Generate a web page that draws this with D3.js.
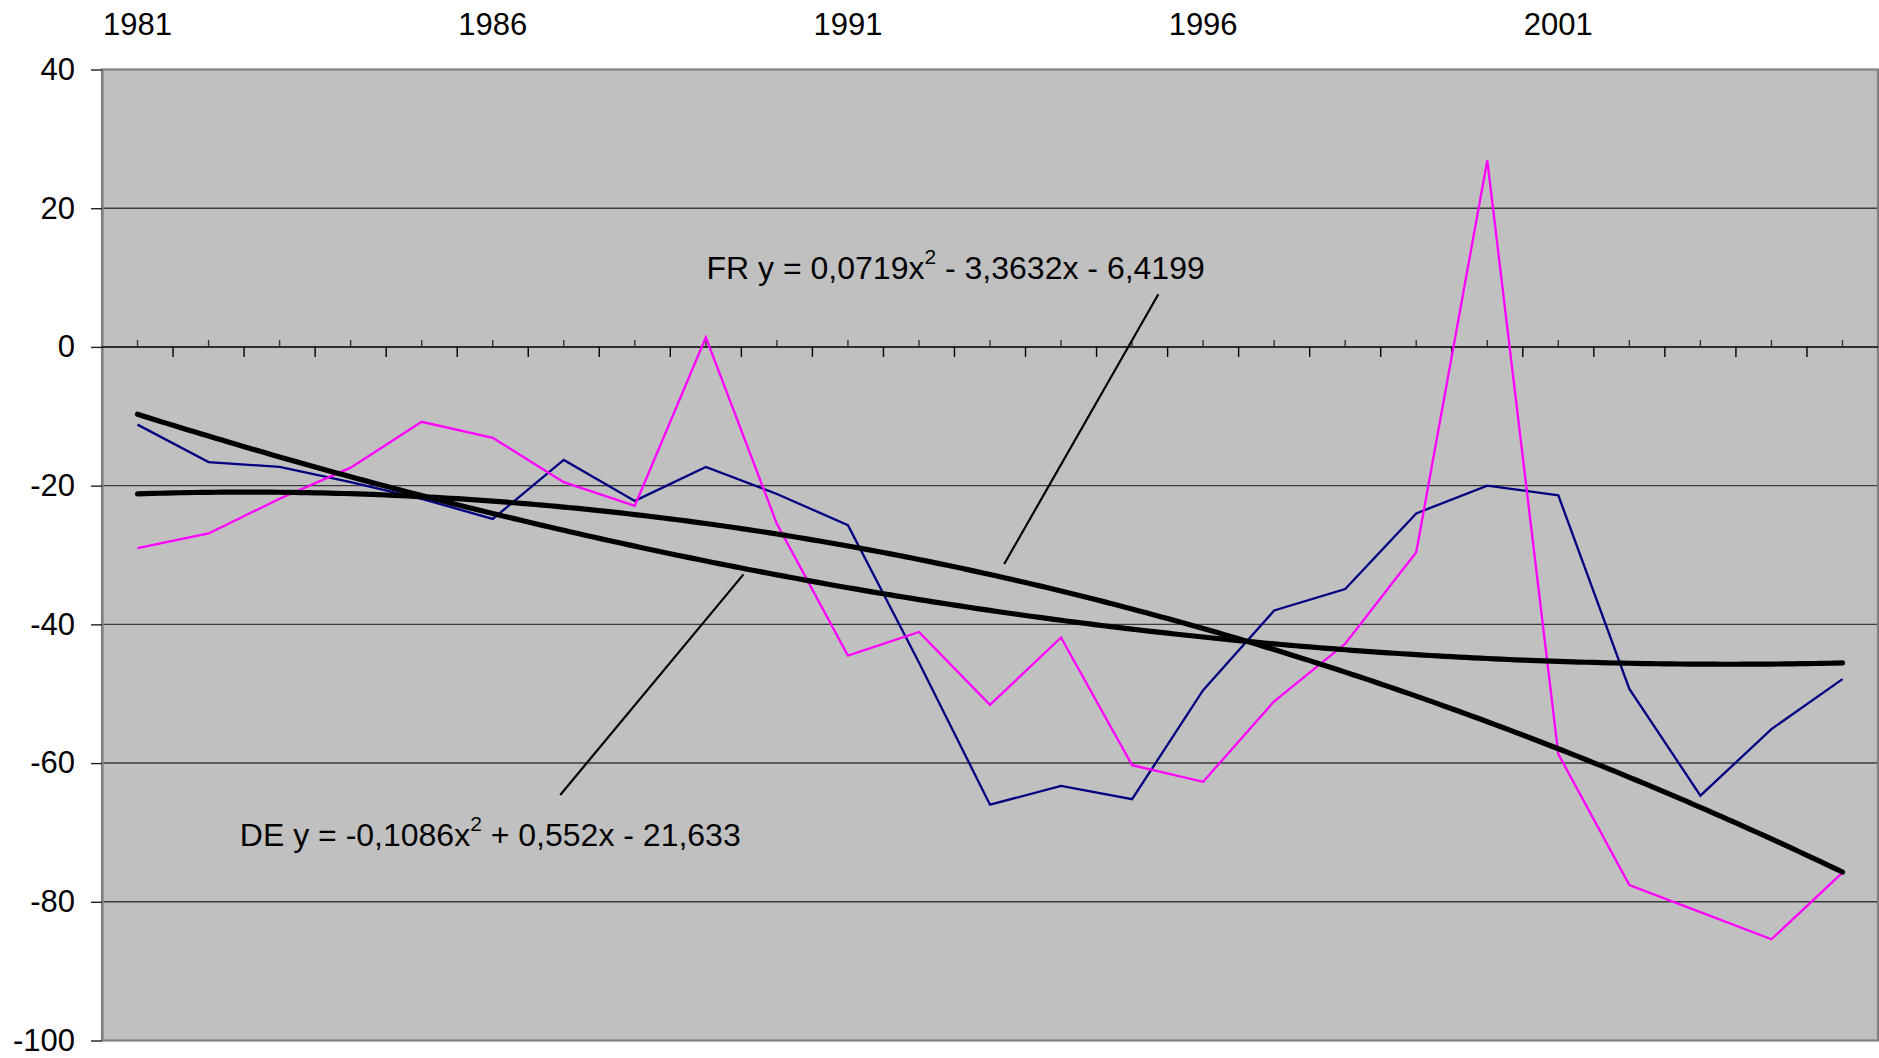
<!DOCTYPE html>
<html>
<head>
<meta charset="utf-8">
<script src="https://cdn.jsdelivr.net/npm/d3@7"></script>
<style>
  html, body { margin: 0; padding: 0; background: #ffffff; }
  svg { display: block; font-family: "Liberation Sans", Arial, Helvetica, sans-serif; }
</style>
</head>
<body>
<svg id="chart" width="1879" height="1058"></svg>
<script>
// Categories (years) and the labelled ones along the top
const years = [1981, 1982, 1983, 1984, 1985, 1986, 1987, 1988, 1989, 1990,
               1991, 1992, 1993, 1994, 1995, 1996, 1997, 1998, 1999, 2000,
               2001, 2002, 2003, 2004, 2005];
const yearLabels = [1981, 1986, 1991, 1996, 2001];
const yTicks = [40, 20, 0, -20, -40, -60, -80, -100];

// Series values
const frValues = [-11.2, -16.6, -17.3, -19.5, -21.9, -24.8, -16.3, -22.2, -17.3, -21.2,
                  -25.7, -45.5, -66.0, -63.3, -65.2, -49.5, -38.0, -34.9, -24.0, -20.0,
                  -21.4, -49.3, -64.7, -55.1, -47.9];
const deValues = [-29.0, -26.9, -21.9, -17.4, -10.8, -13.1, -19.5, -22.9, 1.4, -25.5,
                  -44.5, -41.1, -51.6, -41.9, -60.3, -62.7, -51.1, -42.8, -29.6, 26.9,
                  -58.7, -77.6, -81.5, -85.4, -75.8];

// Polynomial trend coefficients [a, b, c] for y = a x^2 + b x + c, x = 1..n
const frTrend = [0.0719, -3.3632, -6.4199];
const deTrend = [-0.1086, 0.552, -21.633];

const svg = d3.select("#chart");
const plot = { left: 102, right: 1878, top: 69.5, bottom: 1040.5 };

const x = d3.scaleBand().domain(years).range([plot.left, plot.right]).padding(0);
const bw = x.bandwidth();
const cx = d => x(d) + bw / 2;
const y = d3.scaleLinear().domain([-100, 40]).range([plot.bottom, plot.top]);
// continuous position along the category axis, x = 1 at the first year
const xi = d3.scaleLinear().domain([1, years.length])
  .range([cx(years[0]), cx(years[years.length - 1])]);

// Plot area
svg.append("rect")
  .attr("x", plot.left).attr("y", plot.top)
  .attr("width", plot.right - plot.left).attr("height", plot.bottom - plot.top)
  .attr("fill", "#c0c0c0");

// Horizontal gridlines
svg.append("g").selectAll("line")
  .data(yTicks.filter(v => v !== 40 && v !== -100 && v !== 0))
  .join("line")
  .attr("x1", plot.left).attr("x2", plot.right)
  .attr("y1", d => y(d)).attr("y2", d => y(d))
  .attr("stroke", "#3a3a3a").attr("stroke-width", 1.4);

// Plot border
svg.append("rect")
  .attr("x", plot.left).attr("y", plot.top)
  .attr("width", plot.right - plot.left).attr("height", plot.bottom - plot.top)
  .attr("fill", "none").attr("stroke", "#808080").attr("stroke-width", 2.2);

// Value axis on the left
const yAxis = svg.append("g")
  .attr("transform", `translate(${plot.left},0)`)
  .call(d3.axisLeft(y).tickValues(yTicks).tickSize(11).tickSizeOuter(0).tickPadding(16)
    .tickFormat(d => d));
yAxis.select(".domain").attr("stroke", "#808080").attr("stroke-width", 2.2);
yAxis.selectAll(".tick line").attr("stroke", "#222").attr("stroke-width", 1.4);
yAxis.selectAll(".tick text")
  .attr("font-size", 31).attr("fill", "#000")
  .attr("font-family", "\"Liberation Sans\", Arial, sans-serif");

// Category axis crossing at zero
const y0 = y(0);
svg.append("line")
  .attr("x1", plot.left).attr("x2", plot.right)
  .attr("y1", y0).attr("y2", y0)
  .attr("stroke", "#000").attr("stroke-width", 1.6);
svg.append("g").selectAll("line")
  .data(years.slice(1))
  .join("line")
  .attr("x1", d => x(d)).attr("x2", d => x(d))
  .attr("y1", y0).attr("y2", y0 + 10)
  .attr("stroke", "#000").attr("stroke-width", 1.4);
svg.append("g").selectAll("line")
  .data(years)
  .join("line")
  .attr("x1", d => cx(d)).attr("x2", d => cx(d))
  .attr("y1", y0).attr("y2", y0 - 7)
  .attr("stroke", "#333").attr("stroke-width", 1.4);

// Year labels along the top
const xAxis = svg.append("g")
  .attr("transform", "translate(0,35)")
  .call(d3.axisTop(x).tickValues(yearLabels).tickSize(0).tickPadding(0));
xAxis.select(".domain").remove();
xAxis.selectAll(".tick text")
  .attr("dy", 0).attr("y", 0)
  .attr("font-size", 31).attr("fill", "#000")
  .attr("font-family", "\"Liberation Sans\", Arial, sans-serif");

// Data series
const line = d3.line().x((d, i) => cx(years[i])).y(d => y(d));
svg.append("path").datum(frValues)
  .attr("d", line).attr("fill", "none")
  .attr("stroke", "#000080").attr("stroke-width", 2.3).attr("stroke-linejoin", "miter");
svg.append("path").datum(deValues)
  .attr("d", line).attr("fill", "none")
  .attr("stroke", "#ff00ff").attr("stroke-width", 2.3).attr("stroke-linejoin", "miter");

// Trend curves
const steps = d3.range(1, years.length + 0.001, 0.1);
const poly = c => t => c[0] * t * t + c[1] * t + c[2];
const trendLine = d3.line().x(d => xi(d[0])).y(d => y(d[1]));
[frTrend, deTrend].forEach(c => {
  const f = poly(c);
  svg.append("path").datum(steps.map(t => [t, f(t)]))
    .attr("d", trendLine).attr("fill", "none")
    .attr("stroke", "#000").attr("stroke-width", 5.2)
    .attr("stroke-linecap", "round").attr("stroke-linejoin", "round");
});

// Equation labels with leader lines (anchored in data coordinates)
const labels = [
  { name: "FR", coef: frTrend, at: [9.01, 9.8], lead: [[15.37, 7.6], [13.2, -31.3]] },
  { name: "DE", coef: deTrend, at: [2.44, -71.9], lead: [[9.53, -32.8], [6.95, -64.6]] }
];
const fmt = v => String(Math.abs(v)).replace(".", ",");
labels.forEach(l => {
  svg.append("line")
    .attr("x1", xi(l.lead[0][0])).attr("y1", y(l.lead[0][1]))
    .attr("x2", xi(l.lead[1][0])).attr("y2", y(l.lead[1][1]))
    .attr("stroke", "#000").attr("stroke-width", 2.2);
  const [a, b, c] = l.coef;
  const t = svg.append("text")
    .attr("x", xi(l.at[0])).attr("y", y(l.at[1]))
    .attr("font-size", 32).attr("fill", "#000");
  t.append("tspan").text(`${l.name} y = ${a < 0 ? "-" : ""}${fmt(a)}x`);
  t.append("tspan").attr("font-size", 21).attr("dy", -15).text("2");
  t.append("tspan").attr("dy", 15)
    .text(` ${b < 0 ? "-" : "+"} ${fmt(b)}x ${c < 0 ? "-" : "+"} ${fmt(c)}`);
});
</script>
</body>
</html>
